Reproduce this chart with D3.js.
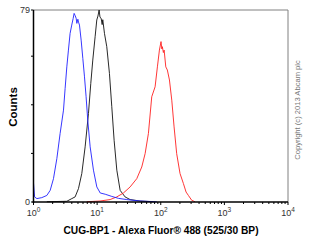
<!DOCTYPE html>
<html><head><meta charset="utf-8">
<script src="https://cdn.jsdelivr.net/npm/d3@7"></script>
<style>body{margin:0;background:#fff}svg{display:block}text{font-family:"Liberation Sans",Arial,sans-serif}</style>
</head><body><svg id="c" width="310" height="241"></svg>
<script>
const blueX=[1.0,1.04,1.13,1.35,1.62,1.83,2.06,2.33,2.62,2.96,3.14,3.34,3.54,3.76,3.99,4.2,4.35,4.5,4.68,4.8,4.98,5.1,5.28,5.61,5.96,6.33,6.71,7.12,7.77,8.76,9.89,11.2,13.4,17.0,21.6,29.2,47.2,86.4];
const blueY=[7.8,2.1,1.4,1.8,2.7,4.8,9.6,17.9,28.2,37.8,46.7,55.6,62.5,69.4,72.8,75.5,77.6,76.8,75.6,73.5,75.2,74.0,72.8,66.6,59.1,51.5,43.3,33.7,22.7,13.1,6.2,3.7,3.2,2.3,1.5,1.0,0.4,0.1];
const blackX=[1.62,3.34,4.0,4.51,5.09,5.74,6.48,7.31,7.95,8.55,9.3,9.88,10.3,10.75,11.1,11.56,12.0,12.27,13.04,14.18,15.62,17.0,18.5,20.4,23.0,27.5,33.0,47.4,76.7];
const blackY=[0.1,0.3,1.4,2.1,5.5,11.7,22.7,36.4,48.8,58.4,68.0,74.9,76.5,79.0,76.0,75.6,73.0,75.0,69.4,63.9,52.9,39.2,25.4,13.1,4.8,2.1,1.0,0.4,0.1];
const redX=[6.88,11.1,16.0,20.4,25.9,33.0,42.0,50.3,56.8,64.0,72.2,81.5,88.6,95.3,101,104,106,110,113,120,127,137,149,162,178,201,227,250,272,307,346];
const redY=[0.1,0.4,1.0,2.1,3.7,6.2,9.6,14.4,19.9,28.2,43.3,47.4,55.6,62.5,66.0,63.0,63.9,61.5,62.5,55.6,54.3,50.2,41.9,30.9,19.9,11.7,7.6,4.1,2.7,0.7,0.1];
const xDecades=[1,10,100,1000,10000];
const xTickExp=["0","1","2","3","4"];
const yMajor=[0,79];
const yMinor=[20,40,60];

const svg=d3.select("#c");
const L=33.5,R=288,T=10,B=202;
const x=d3.scaleLog().domain([1,10000]).range([L,R]);
const y=d3.scaleLinear().domain([0,79]).range([B,T]);

svg.append("path").attr("d",`M${L},${T}H${R}V${B}`).attr("fill","none").attr("stroke","#808080").attr("stroke-width",1);

const line=d3.line().x(d=>x(d[0])).y(d=>y(d[1]));
function series(xs,ys,col){
  svg.append("path").datum(xs.map((v,i)=>[v,ys[i]])).attr("d",line).attr("fill","none").attr("stroke",col).attr("stroke-width",0.9);
}
series(blackX,blackY,"#111");
series(redX,redY,"#ff2020");
series(blueX,blueY,"#2020ff");

const minor=[];
for(let e=0;e<4;e++)for(let k=2;k<10;k++)minor.push(k*Math.pow(10,e));
const xa=svg.append("g").attr("transform",`translate(0,${B})`);
xa.selectAll("line.mn").data(minor).enter().append("line").attr("x1",d=>x(d)).attr("x2",d=>x(d)).attr("y1",0).attr("y2",2).attr("stroke","#000").attr("stroke-width",1);
xa.selectAll("line.mj").data(xDecades).enter().append("line").attr("x1",d=>x(d)).attr("x2",d=>x(d)).attr("y1",0).attr("y2",3).attr("stroke","#000").attr("stroke-width",1);
xa.append("line").attr("x1",L-1).attr("x2",R).attr("y1",0).attr("y2",0).attr("stroke","#000").attr("stroke-width",1.5);
const xl=xa.selectAll("text.t").data(xDecades).enter().append("text").attr("x",d=>x(d)).attr("y",14).attr("text-anchor","middle").attr("font-size",9).attr("fill","#333");
xl.append("tspan").text("10");
xl.append("tspan").attr("dy",-4).attr("font-size",6.5).text((d,i)=>xTickExp[i]);

const ya=svg.append("g").attr("transform",`translate(${L},0)`);
ya.selectAll("line.t").data(yMajor.concat(yMinor)).enter().append("line").attr("x1",-2.5).attr("x2",0).attr("y1",d=>y(d)).attr("y2",d=>y(d)).attr("stroke","#000").attr("stroke-width",1);
ya.append("line").attr("x1",0).attr("x2",0).attr("y1",T).attr("y2",B+1).attr("stroke","#000").attr("stroke-width",1.5);
ya.selectAll("text").data(yMajor).enter().append("text").attr("x",-3.5).attr("y",d=>y(d)+3.2).attr("text-anchor","end").attr("font-size",9).attr("fill","#333").text(d=>d);

svg.append("text").attr("transform","translate(17,107) rotate(-90)").attr("text-anchor","middle").attr("font-size",11.5).attr("font-weight","bold").text("Counts");
svg.append("text").attr("x",161).attr("y",234).attr("text-anchor","middle").attr("font-size",10.2).attr("font-weight","bold").text("CUG-BP1 - Alexa Fluor® 488 (525/30 BP)");
svg.append("text").attr("transform","translate(300,110) rotate(-90)").attr("text-anchor","middle").attr("font-size",7.6).attr("fill","#777").text("Copyright (c) 2013 Abcam plc");
</script></body></html>
